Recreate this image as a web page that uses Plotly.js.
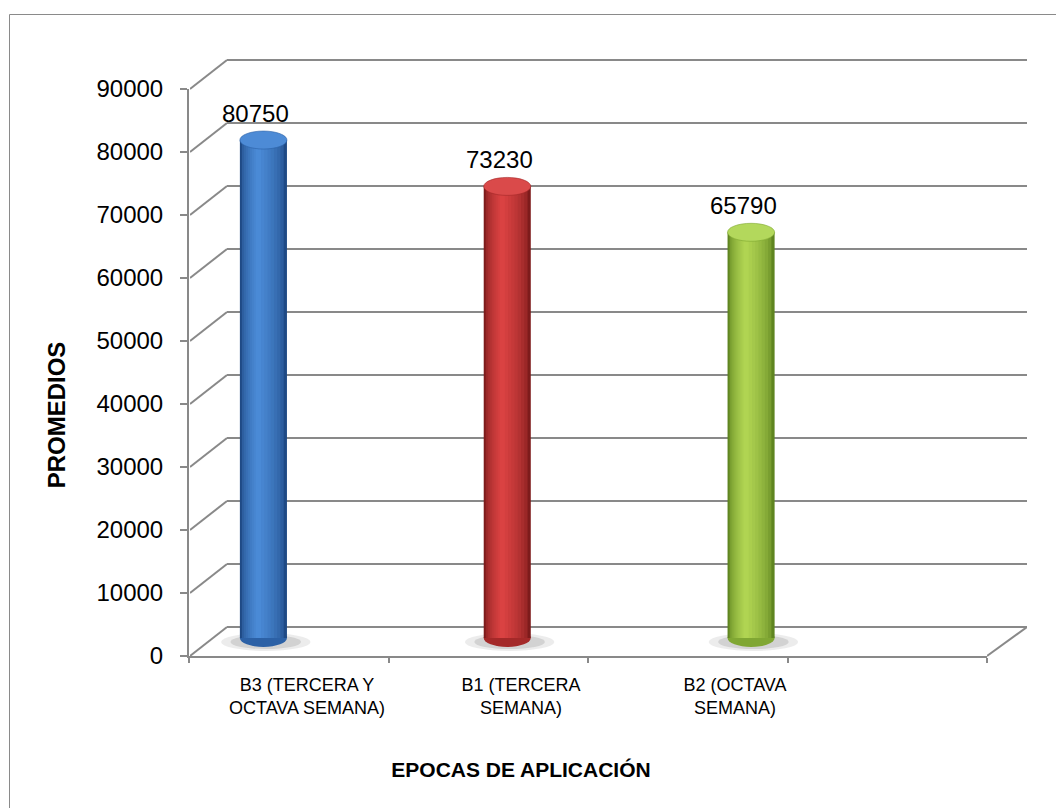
<!DOCTYPE html>
<html>
<head>
<meta charset="utf-8">
<script src="https://cdn.plot.ly/plotly-3.0.1.min.js"></script>
<style>html,body{margin:0;padding:0;background:#fff;}#chart{width:1056px;height:808px;}</style>
</head>
<body>
<div id="chart"></div>
<script>
// ---- data ----
const categories = ['B3 (TERCERA Y<br>OCTAVA SEMANA)', 'B1 (TERCERA<br>SEMANA)', 'B2 (OCTAVA<br>SEMANA)'];
const promedios = [80750, 73230, 65790];
const yTicks = [0, 10000, 20000, 30000, 40000, 50000, 60000, 70000, 80000, 90000];
const yTickText = ['0', '10000', '20000', '30000', '40000', '50000', '60000', '70000', '80000', '90000'];
const xSlots = [0, 1, 2, 3, 4];

// ---- style ----
const W = 1056, H = 808;
const fx = p => p / W;
const fy = p => 1 - p / H;
const GRID = '#898989';
const FONT = 'Liberation Sans, Arial, sans-serif';
const pxPerUnitFront = 567 / 90000;
const depthUnits = 29 / pxPerUnitFront;
const barPxPerUnit = 0.006167;
const barW = 0.193;
const ellH = 18 / barPxPerUnit;

const darkC = [[31, 74, 133], [125, 27, 27], [95, 133, 32]];
const peakC = [[74, 138, 214], [218, 66, 66], [176, 212, 82]];
const topC  = ['#4d8bd6', '#da4a4a', '#b3d85c'];
const midC  = ['#2c61a6', '#a42929', '#80a733'];

function mix(a, b, t) {
  return 'rgb(' + a.map((c, k) => Math.round(c + (b[k] - c) * t)).join(',') + ')';
}

const idx = promedios.map((_, i) => i);
const traces = [];

const N = 9, PEAK = 0.38;
for (let k = 0; k < N; k++) {
  const t = k / N;
  const a = PEAK * t, b = 1 - (1 - PEAK) * t;
  const ct = Math.pow(k / (N - 1), 0.55);
  traces.push({
    type: 'bar', x: categories, y: promedios, xaxis: 'x3', yaxis: 'y3',
    width: barW * (b - a), offset: barW * (a - 0.5),
    marker: {color: idx.map(i => mix(darkC[i], peakC[i], ct)), line: {width: 0}},
    hoverinfo: 'skip', showlegend: false
  });
}

// diagonal frame lines (left wall) from tick values
const dx = [], dy = [];
yTicks.forEach(v => { dx.push(0, 1, null); dy.push(v, v + depthUnits, null); });
traces.push({type: 'scatter', mode: 'lines', x: dx, y: dy, xaxis: 'x5', yaxis: 'y5',
  line: {color: GRID, width: 2}, hoverinfo: 'skip', showlegend: false});
traces.push({type: 'scatter', mode: 'lines', x: [0, 1], y: [yTicks[0], yTicks[0] + depthUnits], xaxis: 'x6', yaxis: 'y5',
  line: {color: GRID, width: 2}, hoverinfo: 'skip', showlegend: false});
// placeholders so every subplot exists
traces.push({type: 'scatter', mode: 'markers', x: xSlots, y: xSlots.map(() => null), xaxis: 'x', yaxis: 'y', hoverinfo: 'skip', showlegend: false});
traces.push({type: 'scatter', mode: 'markers', x: [0, 1], y: [null, null], xaxis: 'x2', yaxis: 'y2', hoverinfo: 'skip', showlegend: false});
traces.push({type: 'scatter', mode: 'markers', x: idx, y: idx.map(() => null), xaxis: 'x4', yaxis: 'y', hoverinfo: 'skip', showlegend: false});
traces.push({type: 'scatter', mode: 'markers', x: [0, 1], y: [null, null], xaxis: 'x5', yaxis: 'y7', hoverinfo: 'skip', showlegend: false});

const shapes = [];
shapes.push({type: 'rect', xref: 'paper', yref: 'paper', x0: fx(9.5), x1: fx(W + 20), y0: fy(14.5), y1: fy(H + 20),
  line: {color: '#8a8a8a', width: 1}, fillcolor: 'rgba(0,0,0,0)'});
const u = 1 / barPxPerUnit;
promedios.forEach((v, i) => {
  // soft shadow
  shapes.push({type: 'circle', xref: 'x3', yref: 'y3', layer: 'between',
    x0: i - barW * 0.9, x1: i + barW * 1.0, y0: -13 * u, y1: 5 * u,
    fillcolor: 'rgba(150,150,150,0.18)', line: {width: 0}});
  shapes.push({type: 'circle', xref: 'x3', yref: 'y3', layer: 'between',
    x0: i - barW * 0.7, x1: i + barW * 0.8, y0: -11 * u, y1: 3 * u,
    fillcolor: 'rgba(120,120,120,0.22)', line: {width: 0}});
  // bottom ellipse
  shapes.push({type: 'circle', xref: 'x3', yref: 'y3', layer: 'between',
    x0: i - barW / 2, x1: i + barW / 2, y0: -ellH / 2, y1: ellH / 2,
    fillcolor: midC[i], line: {width: 0}});
  // top ellipse
  shapes.push({type: 'circle', xref: 'x3', yref: 'y3', layer: 'above',
    x0: i - barW / 2, x1: i + barW / 2, y0: v - ellH / 2, y1: v + ellH / 2,
    fillcolor: topC[i], line: {color: midC[i], width: 0.6}});
});

const annotations = promedios.map((v, i) => ({
  xref: 'x3', yref: 'y3', x: i, y: v, text: String(v), showarrow: false,
  xanchor: 'center', yanchor: 'middle', xshift: -8, yshift: 27,
  font: {family: FONT, size: 24, color: '#000'}
}));

const layout = {
  width: W, height: H,
  margin: {l: 0, r: 0, t: 0, b: 0, pad: 0},
  paper_bgcolor: '#ffffff', plot_bgcolor: 'rgba(0,0,0,0)',
  showlegend: false, barmode: 'overlay', hovermode: false,
  font: {family: FONT, color: '#000'},
  xaxis: {domain: [fx(189), fx(987)], range: [0, 4], tickmode: 'array', tickvals: xSlots,
    ticks: 'outside', ticklen: 5, tickwidth: 2, tickcolor: GRID, showticklabels: false,
    showline: true, linecolor: GRID, linewidth: 2, showgrid: false, zeroline: false, anchor: 'y'},
  yaxis: {domain: [fy(656), fy(89)], range: [0, 90000], tickmode: 'array', tickvals: yTicks, ticktext: yTickText,
    ticks: 'outside', ticklen: 7, tickwidth: 2, tickcolor: GRID, showline: true, linecolor: GRID, linewidth: 2,
    showgrid: false, zeroline: false, anchor: 'x', tickfont: {family: FONT, size: 24, color: '#000'},
    ticklabelstandoff: 12},
  // axis carrying the y title (centred lower, as in the original)
  yaxis7: {domain: [fy(656), fy(174)], range: [0, 1], anchor: 'x5', showticklabels: false, ticks: '',
    showline: false, showgrid: false, zeroline: false,
    title: {text: '<b>PROMEDIOS</b>', font: {family: FONT, size: 24, color: '#000'}, standoff: 116}},
  xaxis2: {domain: [fx(227), fx(1027)], range: [0, 1], visible: false, anchor: 'y2'},
  yaxis2: {domain: [fy(627 + 6.3), fy(60 - 6.3)], range: [-1000, 91000], tickmode: 'array', tickvals: yTicks,
    showticklabels: false, ticks: '', showgrid: true, gridcolor: GRID, gridwidth: 2,
    showline: false, zeroline: false, anchor: 'x2'},
  xaxis3: {domain: [fx(141.5), fx(873)], type: 'category', range: [-0.5, 2.5], visible: false, anchor: 'y3'},
  yaxis3: {domain: [fy(656.5), fy(83)], range: [-3000, 90000], visible: false, anchor: 'x3'},
  xaxis4: {domain: [fx(200), fx(842)], range: [-0.5, 2.5], tickmode: 'array', tickvals: idx, ticktext: categories,
    ticks: '', showline: false, showgrid: false, zeroline: false, anchor: 'y',
    tickfont: {family: FONT, size: 18, color: '#000'}, ticklabelstandoff: 16,
    title: {text: '<b>EPOCAS DE APLICACIÓN</b>', font: {family: FONT, size: 21, color: '#000'}, standoff: 44}},
  xaxis5: {domain: [fx(190), fx(227)], range: [0, 1], visible: false, anchor: 'y5'},
  yaxis5: {domain: [fy(662), fy(50)], range: [-6 / pxPerUnitFront, 606 / pxPerUnitFront], visible: false, anchor: 'x5'},
  xaxis6: {domain: [fx(987), fx(1027)], range: [0, 1], visible: false, anchor: 'y5'},
  shapes: shapes,
  annotations: annotations
};

Plotly.newPlot('chart', traces, layout, {staticPlot: true, displayModeBar: false});
</script>
</body>
</html>
